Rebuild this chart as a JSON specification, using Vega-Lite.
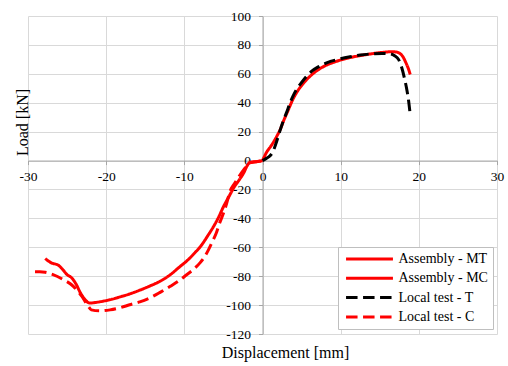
{
  "$schema": "https://vega.github.io/schema/vega-lite/v6.json",
  "width": 469,
  "height": 318,
  "autosize": {"type": "none"},
  "padding": {"left": 28, "top": 16, "right": 11, "bottom": 32},
  "background": "white",
  "config": {
    "font": "'Liberation Serif', 'Times New Roman', serif",
    "view": {"stroke": null},
    "axis": {
      "gridColor": "#d9d9d9",
      "gridWidth": 1,
      "domainColor": "#a6a6a6",
      "tickColor": "#a6a6a6",
      "tickSize": 4,
      "labelFont": "'Liberation Serif', 'Times New Roman', serif",
      "labelFontSize": 13.5,
      "labelColor": "#000000",
      "labelFlush": false,
      "labelOverlap": false,
      "labelExpr": "'' + datum.value",
      "titleFont": "'Liberation Serif', 'Times New Roman', serif",
      "titleFontSize": 16,
      "titleFontWeight": "normal",
      "titleColor": "#000000"
    },
    "legend": {
      "title": null,
      "orient": "none",
      "legendX": 310,
      "legendY": 231,
      "symbolType": "stroke",
      "symbolStrokeWidth": 3,
      "symbolSize": 2200,
      "symbolOffset": 1.5,
      "clipHeight": 14,
      "labelFont": "'Liberation Serif', 'Times New Roman', serif",
      "labelFontSize": 14,
      "labelColor": "#000000",
      "labelOffset": 4,
      "fillColor": "#ffffff",
      "strokeColor": "#bfbfbf",
      "padding": 5,
      "rowPadding": 5.3
    }
  },
  "data": {
    "values": [
      {"s": "Assembly - MT", "x": 0, "y": 0},
      {"s": "Assembly - MT", "x": 0.5, "y": 5.5},
      {"s": "Assembly - MT", "x": 1.2, "y": 11},
      {"s": "Assembly - MT", "x": 1.8, "y": 16.5},
      {"s": "Assembly - MT", "x": 2.3, "y": 22},
      {"s": "Assembly - MT", "x": 2.7, "y": 27.5},
      {"s": "Assembly - MT", "x": 3.3, "y": 35},
      {"s": "Assembly - MT", "x": 3.9, "y": 42.5},
      {"s": "Assembly - MT", "x": 4.6, "y": 49},
      {"s": "Assembly - MT", "x": 5.4, "y": 54.5},
      {"s": "Assembly - MT", "x": 6.5, "y": 60.3},
      {"s": "Assembly - MT", "x": 7.8, "y": 65},
      {"s": "Assembly - MT", "x": 9.5, "y": 68.7},
      {"s": "Assembly - MT", "x": 11, "y": 71},
      {"s": "Assembly - MT", "x": 12.5, "y": 72.6},
      {"s": "Assembly - MT", "x": 14, "y": 73.9},
      {"s": "Assembly - MT", "x": 15.5, "y": 74.9},
      {"s": "Assembly - MT", "x": 16.5, "y": 75.3},
      {"s": "Assembly - MT", "x": 17.2, "y": 75},
      {"s": "Assembly - MT", "x": 17.6, "y": 74},
      {"s": "Assembly - MT", "x": 18.0, "y": 71.5},
      {"s": "Assembly - MT", "x": 18.4, "y": 67},
      {"s": "Assembly - MT", "x": 18.7, "y": 63},
      {"s": "Assembly - MT", "x": 18.9, "y": 59.5},

      {"s": "Assembly - MC", "x": 0, "y": 0},
      {"s": "Assembly - MC", "x": -0.3, "y": -0.5},
      {"s": "Assembly - MC", "x": -1.6, "y": -1.2},
      {"s": "Assembly - MC", "x": -2.0, "y": -4},
      {"s": "Assembly - MC", "x": -2.4, "y": -8.5},
      {"s": "Assembly - MC", "x": -3.0, "y": -13.5},
      {"s": "Assembly - MC", "x": -3.7, "y": -19},
      {"s": "Assembly - MC", "x": -4.3, "y": -25},
      {"s": "Assembly - MC", "x": -5.0, "y": -32},
      {"s": "Assembly - MC", "x": -5.6, "y": -39},
      {"s": "Assembly - MC", "x": -6.3, "y": -46},
      {"s": "Assembly - MC", "x": -7.0, "y": -52},
      {"s": "Assembly - MC", "x": -7.8, "y": -58.5},
      {"s": "Assembly - MC", "x": -8.6, "y": -63.5},
      {"s": "Assembly - MC", "x": -9.5, "y": -68.5},
      {"s": "Assembly - MC", "x": -10.7, "y": -74},
      {"s": "Assembly - MC", "x": -11.8, "y": -79},
      {"s": "Assembly - MC", "x": -13.1, "y": -83.5},
      {"s": "Assembly - MC", "x": -14.5, "y": -87},
      {"s": "Assembly - MC", "x": -15.7, "y": -89.7},
      {"s": "Assembly - MC", "x": -17, "y": -92.3},
      {"s": "Assembly - MC", "x": -18.2, "y": -94.3},
      {"s": "Assembly - MC", "x": -19.3, "y": -96},
      {"s": "Assembly - MC", "x": -20.4, "y": -97.3},
      {"s": "Assembly - MC", "x": -21.4, "y": -98.2},
      {"s": "Assembly - MC", "x": -22.1, "y": -98.6},
      {"s": "Assembly - MC", "x": -22.7, "y": -96.2},
      {"s": "Assembly - MC", "x": -23.3, "y": -91.5},
      {"s": "Assembly - MC", "x": -23.8, "y": -86},
      {"s": "Assembly - MC", "x": -24.4, "y": -81.2},
      {"s": "Assembly - MC", "x": -25.0, "y": -78.9},
      {"s": "Assembly - MC", "x": -25.7, "y": -74.5},
      {"s": "Assembly - MC", "x": -26.1, "y": -72.5},
      {"s": "Assembly - MC", "x": -27.0, "y": -70.8},
      {"s": "Assembly - MC", "x": -27.4, "y": -69.5},
      {"s": "Assembly - MC", "x": -27.8, "y": -67.8},

      {"s": "Local test - T", "x": 0, "y": 0},
      {"s": "Local test - T", "x": 0.5, "y": 1.5},
      {"s": "Local test - T", "x": 1.0, "y": 3.5},
      {"s": "Local test - T", "x": 1.4, "y": 7},
      {"s": "Local test - T", "x": 1.8, "y": 13},
      {"s": "Local test - T", "x": 2.2, "y": 20},
      {"s": "Local test - T", "x": 2.6, "y": 26.5},
      {"s": "Local test - T", "x": 3.1, "y": 33.5},
      {"s": "Local test - T", "x": 3.5, "y": 39.5},
      {"s": "Local test - T", "x": 3.9, "y": 44.5},
      {"s": "Local test - T", "x": 4.4, "y": 49.5},
      {"s": "Local test - T", "x": 5.0, "y": 54},
      {"s": "Local test - T", "x": 5.6, "y": 58},
      {"s": "Local test - T", "x": 6.3, "y": 61.8},
      {"s": "Local test - T", "x": 7.2, "y": 65},
      {"s": "Local test - T", "x": 8.2, "y": 67.6},
      {"s": "Local test - T", "x": 9.9, "y": 70.3},
      {"s": "Local test - T", "x": 11.2, "y": 71.8},
      {"s": "Local test - T", "x": 12.5, "y": 73},
      {"s": "Local test - T", "x": 14, "y": 73.8},
      {"s": "Local test - T", "x": 15.3, "y": 74.1},
      {"s": "Local test - T", "x": 16.3, "y": 73.8},
      {"s": "Local test - T", "x": 16.9, "y": 72.5},
      {"s": "Local test - T", "x": 17.4, "y": 70},
      {"s": "Local test - T", "x": 17.8, "y": 64.5},
      {"s": "Local test - T", "x": 18.2, "y": 56},
      {"s": "Local test - T", "x": 18.5, "y": 48},
      {"s": "Local test - T", "x": 18.7, "y": 41},
      {"s": "Local test - T", "x": 18.85, "y": 34},

      {"s": "Local test - C", "x": 0, "y": 0},
      {"s": "Local test - C", "x": -0.5, "y": -0.5},
      {"s": "Local test - C", "x": -1.5, "y": -1.5},
      {"s": "Local test - C", "x": -2.2, "y": -5},
      {"s": "Local test - C", "x": -3.0, "y": -11},
      {"s": "Local test - C", "x": -3.6, "y": -16},
      {"s": "Local test - C", "x": -4.2, "y": -22},
      {"s": "Local test - C", "x": -4.6, "y": -30},
      {"s": "Local test - C", "x": -5.0, "y": -36.5},
      {"s": "Local test - C", "x": -5.5, "y": -43.5},
      {"s": "Local test - C", "x": -5.9, "y": -50},
      {"s": "Local test - C", "x": -6.4, "y": -56},
      {"s": "Local test - C", "x": -6.9, "y": -61.6},
      {"s": "Local test - C", "x": -7.4, "y": -66.5},
      {"s": "Local test - C", "x": -8.0, "y": -70.8},
      {"s": "Local test - C", "x": -8.8, "y": -75.2},
      {"s": "Local test - C", "x": -9.7, "y": -79},
      {"s": "Local test - C", "x": -10.7, "y": -83.2},
      {"s": "Local test - C", "x": -11.8, "y": -87},
      {"s": "Local test - C", "x": -13.1, "y": -91.2},
      {"s": "Local test - C", "x": -14.4, "y": -95},
      {"s": "Local test - C", "x": -15.7, "y": -97.8},
      {"s": "Local test - C", "x": -17, "y": -99.8},
      {"s": "Local test - C", "x": -18.2, "y": -101.8},
      {"s": "Local test - C", "x": -19.5, "y": -103.3},
      {"s": "Local test - C", "x": -20.8, "y": -104},
      {"s": "Local test - C", "x": -21.9, "y": -103.3},
      {"s": "Local test - C", "x": -22.3, "y": -100.8},
      {"s": "Local test - C", "x": -23.1, "y": -94},
      {"s": "Local test - C", "x": -24.2, "y": -87},
      {"s": "Local test - C", "x": -25.5, "y": -82.3},
      {"s": "Local test - C", "x": -26.8, "y": -78.9},
      {"s": "Local test - C", "x": -27.8, "y": -77.3},
      {"s": "Local test - C", "x": -28.5, "y": -77},
      {"s": "Local test - C", "x": -29.1, "y": -77}
    ]
  },
  "mark": {"type": "line", "strokeWidth": 3, "interpolate": "monotone", "strokeJoin": "round", "strokeCap": "butt"},
  "encoding": {
    "x": {
      "field": "x",
      "type": "quantitative",
      "scale": {"domain": [-30, 30], "nice": false, "zero": false},
      "axis": {
        "values": [-30, -20, -10, 0, 10, 20, 30],
        "offset": -173.45,
        "labelPadding": 5,
        "title": "Displacement [mm]",
        "titleX": 257,
        "titleY": 191.5,
        "titleAlign": "center",
        "titleBaseline": "middle"
      }
    },
    "y": {
      "field": "y",
      "type": "quantitative",
      "scale": {"domain": [-120, 100], "nice": false, "zero": false},
      "axis": {
        "values": [-120, -100, -80, -60, -40, -20, 0, 20, 40, 60, 80, 100],
        "offset": -234.5,
        "labelPadding": 8,
        "title": "Load [kN]",
        "titleX": -240.5,
        "titleY": 106,
        "titleAngle": -90,
        "titleAlign": "center",
        "titleBaseline": "middle"
      }
    },
    "color": {
      "field": "s",
      "type": "nominal",
      "title": null,
      "scale": {
        "domain": ["Assembly - MT", "Assembly - MC", "Local test - T", "Local test - C"],
        "range": ["#ff0000", "#ff0000", "#000000", "#ff0000"]
      }
    },
    "strokeDash": {
      "field": "s",
      "type": "nominal",
      "title": null,
      "scale": {
        "domain": ["Assembly - MT", "Assembly - MC", "Local test - T", "Local test - C"],
        "range": [[1, 0], [1, 0], [11.5, 5.5], [11.5, 5.5]]
      }
    }
  }
}
